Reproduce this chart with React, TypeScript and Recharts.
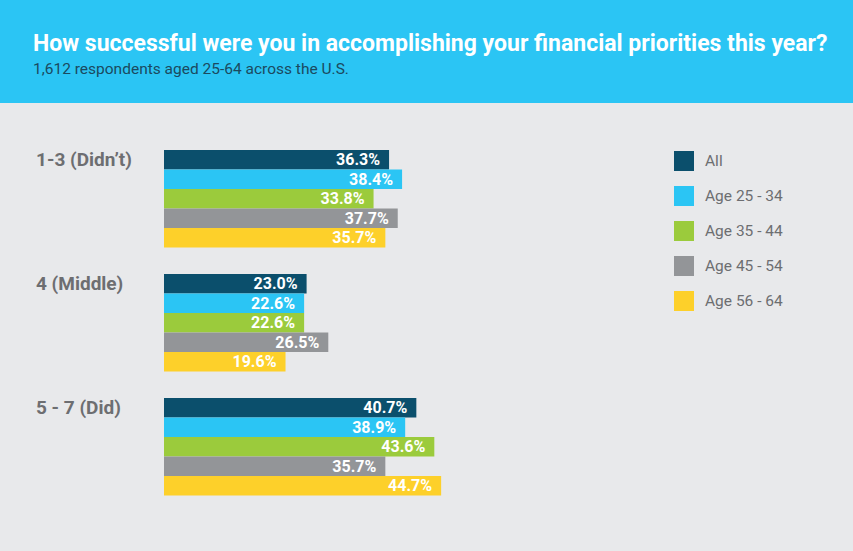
import { BarChart, Bar, XAxis, YAxis, LabelList, Legend } from 'recharts';

const categories = ['1-3 (Didn’t)', '4 (Middle)', '5 - 7 (Did)'];
const allAges = [36.3, 23.0, 40.7];
const age25to34 = [38.4, 22.6, 38.9];
const age35to44 = [33.8, 22.6, 43.6];
const age45to54 = [37.7, 26.5, 35.7];
const age56to64 = [35.7, 19.6, 44.7];

const SERIES = [
  { key: 'all', name: 'All', color: '#0B4F6C', values: allAges },
  { key: 'a25', name: 'Age 25 - 34', color: '#2BC5F4', values: age25to34 },
  { key: 'a35', name: 'Age 35 - 44', color: '#9BCB3C', values: age35to44 },
  { key: 'a45', name: 'Age 45 - 54', color: '#939598', values: age45to54 },
  { key: 'a56', name: 'Age 56 - 64', color: '#FDD02A', values: age56to64 },
];

const data = categories.map((name, i) => {
  const row: Record<string, string | number> = { name };
  SERIES.forEach((s) => {
    row[s.key] = s.values[i];
  });
  return row;
});

const FONT = 'Roboto, "Open Sans", sans-serif';

function CategoryTick(props: any) {
  const { y, payload } = props;
  return (
    <text
      x={36}
      y={y - 33.5}
      fill="#6D6E71"
      fontSize={19}
      fontWeight={700}
      fontFamily={FONT}
    >
      {payload.value}
    </text>
  );
}

function LegendList(props: any) {
  const items = [...(props.payload ?? [])].sort(
    (a: any, b: any) =>
      SERIES.findIndex((s) => s.name === a.value) -
      SERIES.findIndex((s) => s.name === b.value),
  );
  return (
    <div>
      {items.map((item: any) => (
        <div
          key={item.value}
          style={{ display: 'flex', alignItems: 'center', height: 35 }}
        >
          <span
            style={{
              width: 20,
              height: 20,
              background: item.color,
              display: 'inline-block',
              marginRight: 11,
            }}
          />
          <span style={{ color: '#6D6E71', fontSize: 15.5, fontFamily: FONT }}>
            {item.value}
          </span>
        </div>
      ))}
    </div>
  );
}

export default function App() {
  return (
    <div
      style={{
        position: 'absolute',
        left: 0,
        top: 0,
        width: 853,
        height: 551,
        background: '#E8E9EB',
        overflow: 'hidden',
        fontFamily: FONT,
      }}
    >
      <div
        style={{
          height: 103,
          background: '#2BC5F4',
          position: 'relative',
        }}
      >
        <div
          style={{
            position: 'absolute',
            left: 33,
            top: 30,
            color: '#FFFFFF',
            fontSize: 23,
            fontWeight: 700,
            whiteSpace: 'nowrap',
          }}
        >
          How successful were you in accomplishing your financial priorities this year?
        </div>
        <div
          style={{
            position: 'absolute',
            left: 33,
            top: 60,
            color: '#1B4A60',
            fontSize: 15.5,
            whiteSpace: 'nowrap',
          }}
        >
          1,612 respondents aged 25-64 across the U.S.
        </div>
      </div>
      <div style={{ position: 'absolute', left: 0, top: 103 }}>
        <BarChart
          width={853}
          height={448}
          data={data}
          layout="vertical"
          margin={{ top: 34, right: 69, bottom: 42, left: 0 }}
          barSize={19.5}
          barGap={0}
        >
          <XAxis type="number" domain={[0, 100]} hide />
          <YAxis
            type="category"
            dataKey="name"
            width={164}
            axisLine={false}
            tickLine={false}
            tick={<CategoryTick />}
          />
          <Legend
            layout="vertical"
            align="center"
            verticalAlign="middle"
            content={<LegendList />}
            wrapperStyle={{ position: 'absolute', left: 674, top: 40.5, width: 160 }}
          />
          {SERIES.map((s) => (
            <Bar
              key={s.key}
              dataKey={s.key}
              name={s.name}
              fill={s.color}
              isAnimationActive={false}
            >
              <LabelList
                dataKey={s.key}
                position="insideRight"
                offset={9}
                fill="#FFFFFF"
                fontSize={16}
                fontWeight={700}
                fontFamily={FONT}
                formatter={(v: any) => `${Number(v).toFixed(1)}%`}
              />
            </Bar>
          ))}
        </BarChart>
      </div>
    </div>
  );
}
